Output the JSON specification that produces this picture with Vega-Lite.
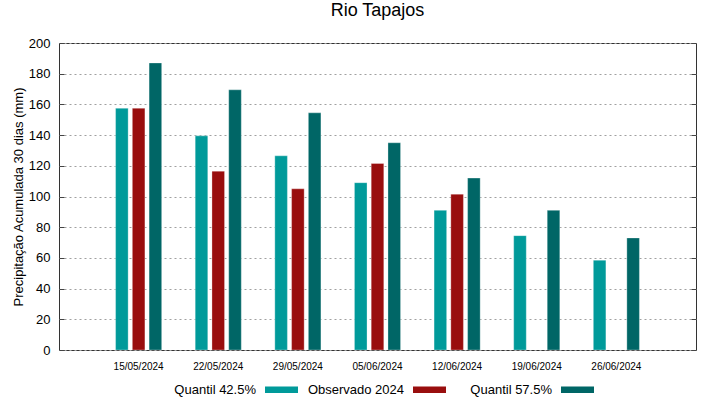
{
  "$schema": "https://vega.github.io/schema/vega-lite/v6.json",
  "width": 637,
  "height": 307,
  "autosize": {"type": "none"},
  "padding": {"left": 59, "top": 43, "right": 23, "bottom": 49},
  "background": "white",
  "title": {"text": "Rio Tapajos", "font": "Liberation Sans", "fontSize": 18, "fontWeight": "normal", "color": "#000000", "offset": 17},
  "config": {
    "view": {"stroke": "#333333", "strokeWidth": 1},
    "font": "Liberation Sans"
  },
  "data": {"values": [
    {"date": "15/05/2024", "serie": "Quantil 42.5%", "value": 157.5},
    {"date": "15/05/2024", "serie": "Observado 2024", "value": 157.5},
    {"date": "15/05/2024", "serie": "Quantil 57.5%", "value": 187},
    {"date": "22/05/2024", "serie": "Quantil 42.5%", "value": 139.5},
    {"date": "22/05/2024", "serie": "Observado 2024", "value": 116.5},
    {"date": "22/05/2024", "serie": "Quantil 57.5%", "value": 169.5},
    {"date": "29/05/2024", "serie": "Quantil 42.5%", "value": 126.5},
    {"date": "29/05/2024", "serie": "Observado 2024", "value": 105},
    {"date": "29/05/2024", "serie": "Quantil 57.5%", "value": 154.5},
    {"date": "05/06/2024", "serie": "Quantil 42.5%", "value": 109},
    {"date": "05/06/2024", "serie": "Observado 2024", "value": 121.5},
    {"date": "05/06/2024", "serie": "Quantil 57.5%", "value": 135},
    {"date": "12/06/2024", "serie": "Quantil 42.5%", "value": 91},
    {"date": "12/06/2024", "serie": "Observado 2024", "value": 101.5},
    {"date": "12/06/2024", "serie": "Quantil 57.5%", "value": 112},
    {"date": "19/06/2024", "serie": "Quantil 42.5%", "value": 74.5},
    {"date": "19/06/2024", "serie": "Quantil 57.5%", "value": 91},
    {"date": "26/06/2024", "serie": "Quantil 42.5%", "value": 58.5},
    {"date": "26/06/2024", "serie": "Quantil 57.5%", "value": 73}
  ]},
  "resolve": {"scale": {"y": "independent"}},
  "layer": [
    {
      "mark": {"type": "bar", "stroke": "white", "strokeWidth": 0.5, "strokeOpacity": 0.6},
      "encoding": {
        "x": {
          "field": "date", "type": "ordinal", "sort": null,
          "scale": {"paddingInner": 0, "paddingOuter": 0.5},
          "axis": {"title": null, "labelAngle": 0, "labelFontSize": 10, "labelColor": "#000000", "ticks": false, "domain": false, "labelPadding": 11}
        },
        "xOffset": {
          "field": "serie", "type": "nominal",
          "scale": {"domain": ["Quantil 42.5%", "Observado 2024", "Quantil 57.5%"], "paddingInner": 0.25, "paddingOuter": 1.11}
        },
        "y": {
          "field": "value", "type": "quantitative",
          "scale": {"domain": [0, 200], "nice": false},
          "axis": {
            "title": "Precipitação Acumulada 30 dias (mm)", "titleFontSize": 13, "titleFontWeight": "normal", "titleColor": "#000000", "titlePadding": 3,
            "values": [0, 20, 40, 60, 80, 100, 120, 140, 160, 180, 200],
            "labelFontSize": 13, "labelColor": "#000000", "labelPadding": 9,
            "offset": -5, "tickSize": 5, "tickColor": "#444444", "domain": false,
            "grid": true, "gridDash": [2, 3], "gridColor": "#a0a0a0", "gridWidth": 1
          }
        },
        "color": {
          "field": "serie", "type": "nominal",
          "scale": {"domain": ["Quantil 42.5%", "Observado 2024", "Quantil 57.5%"], "range": ["#009a9a", "#990e0e", "#006666"]},
          "legend": {
            "title": null, "orient": "none", "legendX": 206, "legendY": 330, "direction": "horizontal",
            "columns": 3, "gridAlign": "all",
            "symbolType": "M-1,-0.2H1V0.2H-1Z", "symbolSize": 1089, "symbolStrokeWidth": 0,
            "labelFontSize": 13, "labelColor": "#000000", "labelAlign": "right", "labelOffset": -42,
            "columnPadding": 9, "padding": 0
          }
        }
      }
    },
    {
      "mark": {"type": "rule", "opacity": 0},
      "encoding": {
        "y": {
          "field": "value", "type": "quantitative",
          "scale": {"domain": [0, 200], "nice": false},
          "axis": {
            "orient": "right", "title": null, "labels": false, "domain": false, "grid": false,
            "values": [0, 20, 40, 60, 80, 100, 120, 140, 160, 180, 200],
            "offset": -5, "tickSize": 5, "tickColor": "#444444"
          }
        }
      }
    }
  ]
}
